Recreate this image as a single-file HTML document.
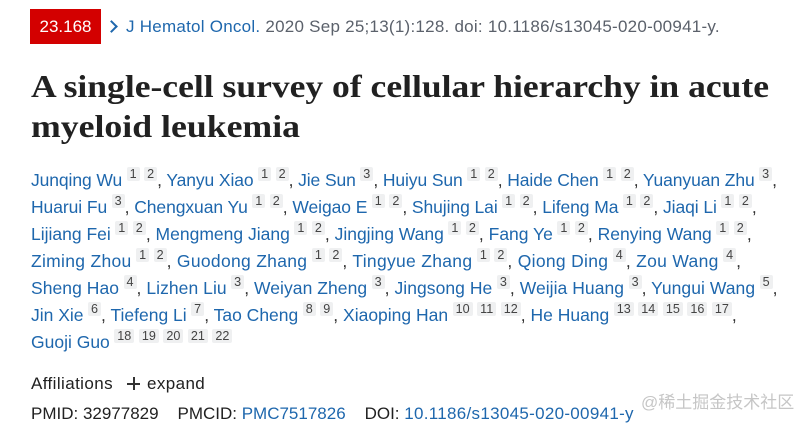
<!DOCTYPE html>
<html><head><meta charset="utf-8">
<style>
html,body{margin:0;padding:0;background:#fff;width:808px;height:427px;overflow:hidden;position:relative}
body{font-family:"Liberation Sans",sans-serif}
.badge{position:absolute;left:30px;top:9px;width:71px;height:35px;background:#d30000;color:#fff;font-size:17px;line-height:35px;text-align:center}
.chev{position:absolute;left:107px;top:22px;width:7px;height:7px;border-right:2px solid #1e67ad;border-top:2px solid #1e67ad;transform:rotate(45deg)}
.jline{position:absolute;left:126px;top:15px;font-size:17px;line-height:24px;color:#5b616b;white-space:nowrap;letter-spacing:0.25px}
.blue{color:#1e67ad}
.authors{position:absolute;left:31px;top:167px;font-size:17.5px;line-height:27px;color:#1e67ad;white-space:nowrap}
.authors div{height:27px}
.c{color:#333}
s{text-decoration:none;display:inline-block;background:#eff0f1;color:#444;font-size:12.6px;line-height:14px;height:14px;padding:0 3px;margin-left:4.5px;border-radius:2px;vertical-align:8px;letter-spacing:0}
.aff{position:absolute;left:31px;top:372px;font-size:17px;line-height:24px;color:#212121;white-space:nowrap;letter-spacing:0.4px}
.plus{display:inline-block;position:relative;width:13px;height:13px;margin:0 7px 0 14px;vertical-align:-1px}
.plus:before{content:"";position:absolute;left:0;top:6px;width:13px;height:2px;background:#333}
.plus:after{content:"";position:absolute;left:6px;top:0;width:2px;height:13px;background:#333}
.pm{position:absolute;left:31px;top:402px;font-size:17px;line-height:24px;color:#212121;white-space:nowrap}
.wm{position:absolute;left:641px;top:391px;font-family:"Liberation Sans","Noto Sans CJK SC",sans-serif;font-size:17px;line-height:24px;color:#c6c6c6;white-space:nowrap}
svg{position:absolute;left:0;top:0}
</style></head><body>
<div class="badge">23.168</div>
<div class="chev"></div>
<div class="jline"><span class="blue">J Hematol Oncol.</span> 2020 Sep 25;13(1):128. doi: 10.1186/s13045-020-00941-y.</div>
<svg width="808" height="160" xmlns="http://www.w3.org/2000/svg">
<text x="31" y="97" font-family="Liberation Serif, serif" font-weight="bold" font-size="32" fill="#212121" textLength="738" lengthAdjust="spacingAndGlyphs">A single-cell survey of cellular hierarchy in acute</text>
<text x="31" y="137" font-family="Liberation Serif, serif" font-weight="bold" font-size="32" fill="#212121" textLength="269" lengthAdjust="spacingAndGlyphs">myeloid leukemia</text>
</svg>
<div class="authors">
<div style="letter-spacing:-0.1px">Junqing Wu<s>1</s><s>2</s><span class="c">,</span> Yanyu Xiao<s>1</s><s>2</s><span class="c">,</span> Jie Sun<s>3</s><span class="c">,</span> Huiyu Sun<s>1</s><s>2</s><span class="c">,</span> Haide Chen<s>1</s><s>2</s><span class="c">,</span> Yuanyuan Zhu<s>3</s><span class="c">,</span></div>
<div style="letter-spacing:-0.08px">Huarui Fu<s>3</s><span class="c">,</span> Chengxuan Yu<s>1</s><s>2</s><span class="c">,</span> Weigao E<s>1</s><s>2</s><span class="c">,</span> Shujing Lai<s>1</s><s>2</s><span class="c">,</span> Lifeng Ma<s>1</s><s>2</s><span class="c">,</span> Jiaqi Li<s>1</s><s>2</s><span class="c">,</span></div>
<div>Lijiang Fei<s>1</s><s>2</s><span class="c">,</span> Mengmeng Jiang<s>1</s><s>2</s><span class="c">,</span> Jingjing Wang<s>1</s><s>2</s><span class="c">,</span> Fang Ye<s>1</s><s>2</s><span class="c">,</span> Renying Wang<s>1</s><s>2</s><span class="c">,</span></div>
<div style="letter-spacing:0.3px">Ziming Zhou<s>1</s><s>2</s><span class="c">,</span> Guodong Zhang<s>1</s><s>2</s><span class="c">,</span> Tingyue Zhang<s>1</s><s>2</s><span class="c">,</span> Qiong Ding<s>4</s><span class="c">,</span> Zou Wang<s>4</s><span class="c">,</span></div>
<div style="letter-spacing:0.05px">Sheng Hao<s>4</s><span class="c">,</span> Lizhen Liu<s>3</s><span class="c">,</span> Weiyan Zheng<s>3</s><span class="c">,</span> Jingsong He<s>3</s><span class="c">,</span> Weijia Huang<s>3</s><span class="c">,</span> Yungui Wang<s>5</s><span class="c">,</span></div>
<div>Jin Xie<s>6</s><span class="c">,</span> Tiefeng Li<s>7</s><span class="c">,</span> Tao Cheng<s>8</s><s>9</s><span class="c">,</span> Xiaoping Han<s>10</s><s>11</s><s>12</s><span class="c">,</span> He Huang<s>13</s><s>14</s><s>15</s><s>16</s><s>17</s><span class="c">,</span></div>
<div>Guoji Guo<s>18</s><s>19</s><s>20</s><s>21</s><s>22</s></div>
</div>
<div class="aff">Affiliations<span class="plus"></span>expand</div>
<div class="pm">PMID: 32977829&nbsp;&nbsp;&nbsp; PMCID: <span class="blue">PMC7517826</span>&nbsp;&nbsp;&nbsp; DOI: <span class="blue" style="letter-spacing:0.3px">10.1186/s13045-020-00941-y</span></div>
<div class="wm">@稀土掘金技术社区</div>
</body></html>
